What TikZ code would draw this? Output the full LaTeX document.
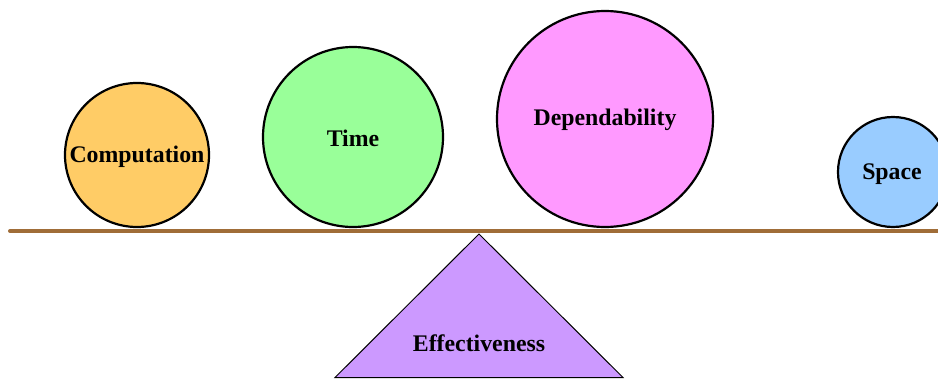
\documentclass[tikz,border=0pt]{standalone}
\usepackage{fontspec}
\setmainfont{Liberation Serif}
\definecolor{cComp}{HTML}{FFCC66}
\definecolor{cTime}{HTML}{99FF99}
\definecolor{cDep}{HTML}{FF99FF}
\definecolor{cSpace}{HTML}{99CCFF}
\definecolor{cTri}{HTML}{CC99FF}
\definecolor{cBar}{HTML}{A06D38}
\begin{document}
\begin{tikzpicture}[x=1pt,y=-1pt,
  ball/.style={circle,draw=black,line width=2.2pt,inner sep=0pt},
  lbl/.style={font=\fontsize{23.8}{26}\selectfont\bfseries,inner sep=0pt}]
\useasboundingbox (0,0) rectangle (938,380);
\clip (0,0) rectangle (938,380);
% balls
\node[ball,fill=cComp,minimum size=144pt] (comp) at (137,155) {};
\node[lbl] (compt) at (137,157) {Computation};
\node[ball,fill=cTime,minimum size=180pt] (time) at (353,137) {};
\node[lbl] (timet) at (353,138) {Time};
\node[ball,fill=cDep,minimum size=216pt] (dep) at (605,119) {};
\node[lbl] (dept) at (605,119.5) {Dependability};
\node[ball,fill=cSpace,minimum size=110pt] (space) at (893,172) {};
\node[lbl] (spacet) at (892,174) {Space};
% beam
\coordinate (bl) at (10,231);
\coordinate (br) at (945,231);
\draw[cBar,line width=4pt,line cap=round] (bl) -- (br);
% fulcrum
\coordinate (apex) at (479,234);
\coordinate (tl) at (335,377.5);
\coordinate (tr) at (623,377.5);
\draw[fill=cTri,line width=1pt,line join=miter] (apex) -- (tl) -- (tr) -- cycle;
\node[lbl] (eff) at (479,343) {Effectiveness};
\end{tikzpicture}
\end{document}
